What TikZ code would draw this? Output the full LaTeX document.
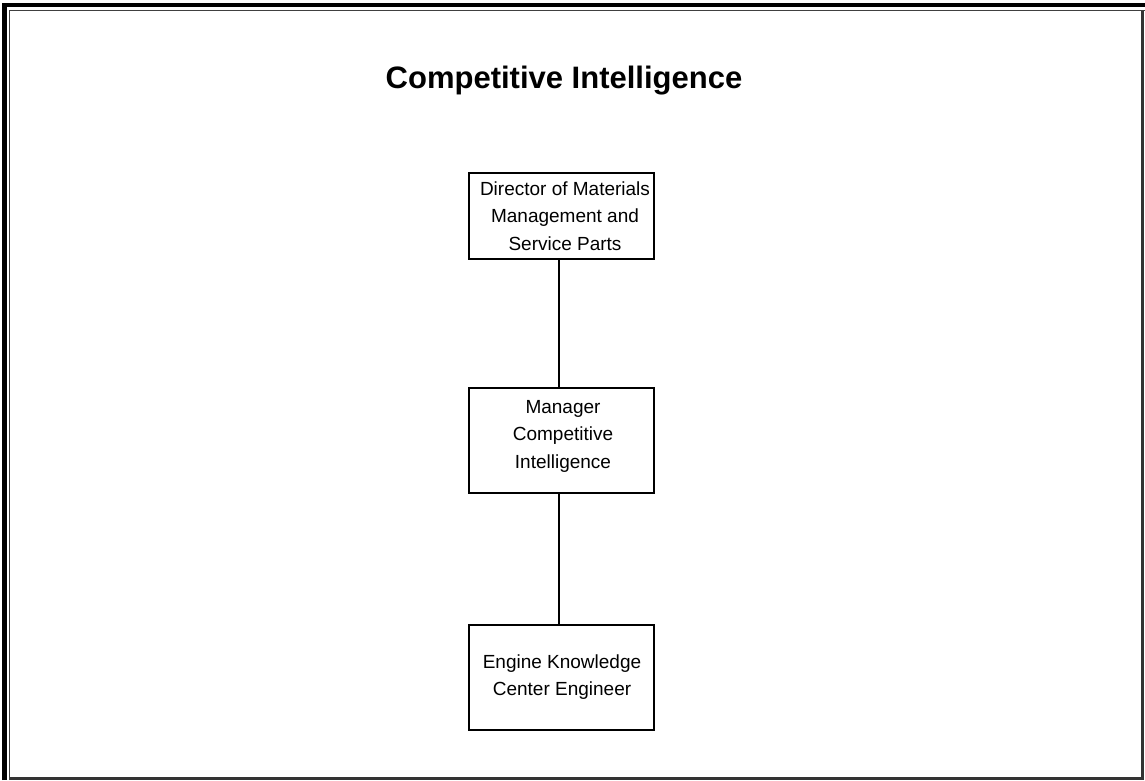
\documentclass[tikz,border=0pt]{standalone}
\usepackage{fontspec}
\setmainfont{Liberation Sans}
\begin{document}
\begin{tikzpicture}[x=1pt,y=-1pt,
  orgbox/.style={draw=black,line width=1.5pt,minimum width=185pt,inner sep=0pt},
  boxtext/.style={align=center,font=\fontsize{19}{27.5}\selectfont,inner sep=0pt},
  link/.style={draw=black,line width=1.5pt}]
\useasboundingbox (0,0) rectangle (1145,780);
\fill[white] (0,0) rectangle (1145,780);
% frame
\draw[black,line width=4.5pt] (4.5,780) -- (4.5,5) -- (1145,5);
\draw[black!75,line width=1.5pt] (9.5,780) -- (9.5,10.5) -- (1145,10.5);
\draw[black!80,line width=3pt] (1142.5,10.5) -- (1142.5,778.5) -- (9.5,778.5);
% title
\node[inner sep=0pt,font=\fontsize{31}{36}\selectfont\bfseries] (title) at (564,81) {Competitive Intelligence};
% boxes
\node[orgbox,minimum height=86pt] (b1) at (561.5,216) {};
\node[orgbox,minimum height=105pt] (b2) at (561.5,440.5) {};
\node[orgbox,minimum height=105pt] (b3) at (561.5,677.5) {};
\node[boxtext] (t1) at (565,216) {Director of Materials\\Management and\\Service Parts};
\node[boxtext] (t2) at (563,436) {Manager\\Competitive\\Intelligence};
\node[boxtext] (t3) at (562,677) {Engine Knowledge\\Center Engineer};
% connectors
\draw[link] ([xshift=-2.5pt]b1.south) -- ([xshift=-2.5pt]b2.north);
\draw[link] ([xshift=-2.5pt]b2.south) -- ([xshift=-2.5pt]b3.north);
\end{tikzpicture}
\end{document}
